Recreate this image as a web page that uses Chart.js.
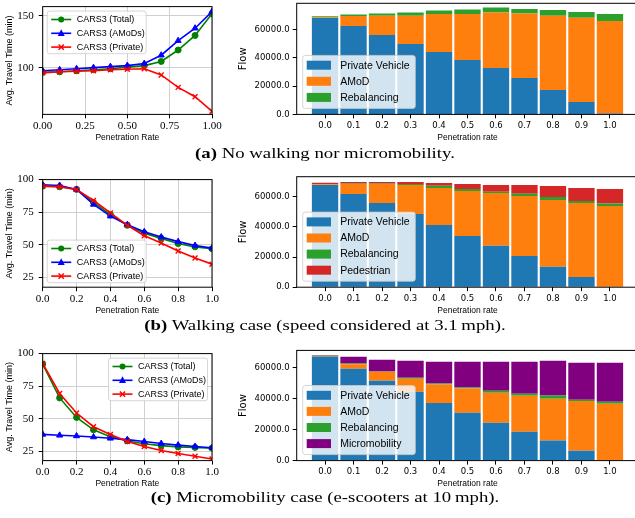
<!DOCTYPE html>
<html>
<head>
<meta charset="utf-8">
<script src="https://cdn.jsdelivr.net/npm/chart.js@4.4.1/dist/chart.umd.min.js"></script>
<style>
    html, body { margin: 0; padding: 0; background: #fff; }
    body { position: relative; width: 635px; height: 518px; overflow: hidden; }
    canvas { position: absolute; }
    .caption {
        position: absolute; left: 0; width: 650px; text-align: center;
        font-family: "Liberation Serif", serif; font-size: 15.5px; line-height: 15.5px;
        color: #000; white-space: nowrap; transform: scaleX(1.21);
    }
</style>
</head>
<body>
<canvas id="lineA"></canvas>
<canvas id="barA"></canvas>
<canvas id="lineB"></canvas>
<canvas id="barB"></canvas>
<canvas id="lineC"></canvas>
<canvas id="barC"></canvas>
<div class="caption" style="top:144.5px"><b>(a)</b> No walking nor micromobility.</div>
<div class="caption" style="top:317px"><b>(b)</b> Walking case (speed considered at 3.1&#8201;mph).</div>
<div class="caption" style="top:489px"><b>(c)</b> Micromobility case (e-scooters at 10&#8201;mph).</div>
<script>
// Penetration rates and bar categories
const rates = [0.0, 0.1, 0.2, 0.3, 0.4, 0.5, 0.6, 0.7, 0.8, 0.9, 1.0];
const categories = ['0.0', '0.1', '0.2', '0.3', '0.4', '0.5', '0.6', '0.7', '0.8', '0.9', '1.0'];

// Tick labels
const lineXTicksA = ['0.00', '0.25', '0.50', '0.75', '1.00'];
const lineXTicksBC = ['0.0', '0.2', '0.4', '0.6', '0.8', '1.0'];
const lineYTicksA = ['100', '150'];
const lineYTicksBC = ['25', '50', '75', '100'];
const flowTicks = ['0.0', '20000.0', '40000.0', '60000.0'];

// (a) No walking nor micromobility - avg travel time (min)
const totalA = [95.5, 96, 97, 98, 99, 100.5, 102, 106, 117, 131, 152];
const amodA = [97, 98, 99, 100, 101, 102, 104, 112, 126, 138, 154];
const privateA = [95, 96, 96.5, 97, 98, 98.5, 99, 93, 81, 72, 58];

// (a) flows
const pvFlowA = [68000, 62400, 56000, 49600, 44000, 38400, 32700, 25600, 17200, 8700, 700];
const amodFlowA = [500, 7000, 13600, 20000, 26800, 32400, 39100, 45500, 52400, 59500, 65200];
const rebalFlowA = [800, 1000, 1500, 2200, 2400, 3100, 3500, 3300, 4000, 4000, 4900];

// (b) Walking case - avg travel time (min)
const totalB = [95, 94.5, 92.5, 82.5, 73, 65, 59, 55, 51, 48.5, 47];
const amodB = [96, 95.5, 92.5, 81, 72, 65.5, 60, 56, 52.5, 49.5, 47.5];
const privateB = [95, 94.5, 92.5, 84, 74.5, 65, 57, 51.5, 45.3, 40, 35.2];

// (b) flows
const pvFlowB = [67700, 61800, 55800, 48500, 41300, 34000, 27400, 20700, 13500, 6800, 0];
const amodFlowB = [500, 6600, 12600, 19200, 24400, 29800, 35000, 39700, 44300, 49000, 53800];
const rebalFlowB = [200, 400, 400, 700, 1600, 1300, 900, 1600, 2000, 1300, 1600];
const pedFlowB = [900, 900, 900, 1300, 1700, 3300, 4400, 5700, 7300, 8600, 9700];

// (c) Micromobility case - avg travel time (min)
const totalC = [92, 66, 51, 41.5, 36.3, 33, 30.8, 29.4, 28.4, 28, 27.5];
const amodC = [38, 37.3, 36.8, 36, 35, 34, 32.5, 31, 29.8, 28.7, 27.8];
const privateC = [92.5, 69.4, 54.4, 43.9, 38, 32.6, 28.7, 25.7, 23.3, 21.3, 19.1];

// (c) flows
const pvFlowC = [67300, 59400, 51600, 44500, 37300, 30900, 24400, 18600, 13000, 6300, 0];
const amodFlowC = [500, 2800, 5800, 8400, 11900, 15700, 19400, 23300, 26900, 32300, 36700];
const rebalFlowC = [100, 600, 200, 600, 700, 700, 1300, 1300, 2200, 700, 1300];
const microFlowC = [300, 4300, 7600, 11000, 14000, 16600, 18800, 20700, 22400, 23900, 25200];

// Plot rows (top / bottom of each axes box, px)
const rowA = { top: 3.3, bottom: 114.4 };
const rowB = { top: 176.7, bottom: 287.2 };
const rowC = { top: 350.4, bottom: 460.6 };

const SANS = '"Liberation Sans", Arial, sans-serif';
const SERIF = '"Liberation Serif", serif';
const DEJAVU = '"DejaVu Sans", sans-serif';

// Size and place a canvas so that its plot area lands on the given box
function place(id, left, width, plotLeft, plotRight, plotTop, plotBottom) {
    const canvas = document.getElementById(id);
    const top = Math.floor(plotTop - 8);
    const height = Math.ceil(plotBottom - top + 30);
    canvas.width = width;
    canvas.height = height;
    canvas.style.left = left + 'px';
    canvas.style.top = top + 'px';
    canvas.style.width = width + 'px';
    canvas.style.height = height + 'px';
    return {
        canvas,
        padding: { top: plotTop - top, right: left + width - plotRight, bottom: height - (plotBottom - top) - 30, left: 0 },
        yWidth: plotLeft - left
    };
}

function drawMarker(ctx, style, x, y, r, color) {
    ctx.fillStyle = color;
    ctx.strokeStyle = color;
    ctx.beginPath();
    if (style === 'circle') {
        ctx.arc(x, y, r, 0, Math.PI * 2);
        ctx.fill();
    } else if (style === 'triangle') {
        ctx.moveTo(x, y - r * 1.15);
        ctx.lineTo(x + r, y + r * 0.75);
        ctx.lineTo(x - r, y + r * 0.75);
        ctx.closePath();
        ctx.fill();
    } else {
        ctx.lineWidth = 1.5;
        const d = r * 0.75;
        ctx.moveTo(x - d, y - d); ctx.lineTo(x + d, y + d);
        ctx.moveTo(x - d, y + d); ctx.lineTo(x + d, y - d);
        ctx.stroke();
    }
}

function roundedBox(ctx, x, y, w, h, r) {
    ctx.beginPath();
    ctx.moveTo(x + r, y);
    ctx.lineTo(x + w - r, y);
    ctx.arcTo(x + w, y, x + w, y + r, r);
    ctx.lineTo(x + w, y + h - r);
    ctx.arcTo(x + w, y + h, x + w - r, y + h, r);
    ctx.lineTo(x + r, y + h);
    ctx.arcTo(x, y + h, x, y + h - r, r);
    ctx.lineTo(x, y + r);
    ctx.arcTo(x, y, x + r, y, r);
    ctx.closePath();
}

// Axes frame + matplotlib style legend box
const frameLegend = {
    id: 'frameLegend',
    afterDraw(chart, args, opts) {
        const { ctx, chartArea: a } = chart;
        ctx.save();
        ctx.strokeStyle = '#000';
        ctx.lineWidth = 1;
        ctx.strokeRect(a.left, a.top, a.right - a.left, a.bottom - a.top);

        const sets = chart.data.datasets;
        const w = opts.width;
        const h = opts.padTop + (sets.length - 1) * opts.rowGap + opts.padBottom;
        const x = opts.corner.includes('left') ? a.left + opts.inset : a.right - opts.inset - w;
        const y = opts.corner.includes('upper') ? a.top + opts.inset : a.bottom - opts.inset - h;

        roundedBox(ctx, x, y, w, h, 2.5);
        ctx.fillStyle = 'rgba(255,255,255,0.8)';
        ctx.fill();
        ctx.strokeStyle = '#cccccc';
        ctx.lineWidth = 0.8;
        ctx.stroke();

        ctx.font = opts.font;
        ctx.textBaseline = 'middle';
        ctx.textAlign = 'left';
        sets.forEach((ds, i) => {
            const cy = y + opts.padTop + i * opts.rowGap;
            if (opts.kind === 'patch') {
                ctx.fillStyle = ds.backgroundColor;
                ctx.fillRect(x + 4, cy - 4.5, 24.3, 9);
            } else {
                ctx.strokeStyle = ds.borderColor;
                ctx.lineWidth = 1.6;
                ctx.beginPath();
                ctx.moveTo(x + 4, cy);
                ctx.lineTo(x + 24, cy);
                ctx.stroke();
                drawMarker(ctx, ds.pointStyle, x + 14, cy, ds.pointRadius, ds.borderColor);
            }
            ctx.fillStyle = '#000';
            ctx.fillText(ds.label, x + opts.textX, cy + 0.5);
        });
        ctx.restore();
    }
};

function lineChart(id, row, series, xTicks, yTicks, yMin, yMax, corner) {
    const box = place(id, 0, 230, 42.7, 212, row.top, row.bottom);
    return new Chart(box.canvas, {
        type: 'line',
        data: {
            datasets: series.map(s => ({
                label: s.label,
                data: rates.map((x, i) => ({ x: x, y: s.values[i] })),
                borderColor: s.color,
                backgroundColor: s.color,
                borderWidth: 1.6,
                pointStyle: s.marker,
                pointRadius: s.radius,
                pointBorderWidth: s.marker === 'crossRot' ? 1.4 : 1,
                tension: 0,
                order: s.order
            }))
        },
        options: {
            responsive: false,
            animation: false,
            events: [],
            layout: { padding: box.padding },
            plugins: {
                legend: { display: false },
                tooltip: { enabled: false },
                frameLegend: {
                    corner: corner, inset: 4.5, width: 99, rowGap: 13.8,
                    padTop: 8.4, padBottom: 6.6, font: '9px ' + SANS, kind: 'line', textX: 29.5
                }
            },
            scales: {
                x: {
                    type: 'linear', min: 0, max: 1,
                    afterBuildTicks: s => { s.ticks = xTicks.map(t => ({ value: parseFloat(t) })); },
                    afterFit: s => { s.height = 30; },
                    ticks: {
                        callback: (v, i) => xTicks[i], autoSkip: false, maxRotation: 0,
                        font: { family: SERIF, size: 11 }, color: '#000', padding: 1
                    },
                    grid: { color: '#d0d0d0', lineWidth: 1, tickColor: '#000', tickLength: 4 },
                    border: { display: false },
                    title: {
                        display: true, text: 'Penetration Rate', color: '#000',
                        font: { family: SANS, size: 8.5 }, padding: { top: 0, bottom: 1.4 }
                    }
                },
                y: {
                    min: yMin, max: yMax,
                    afterBuildTicks: s => { s.ticks = yTicks.map(t => ({ value: parseFloat(t) })); },
                    afterFit: s => { s.width = box.yWidth; },
                    ticks: {
                        callback: (v, i) => yTicks[i], autoSkip: false,
                        font: { family: SERIF, size: 11 }, color: '#000', padding: 5
                    },
                    grid: { color: '#d0d0d0', lineWidth: 1, tickColor: '#000', tickLength: 4 },
                    border: { display: false },
                    title: {
                        display: true, text: 'Avg. Travel Time (min)', color: '#000',
                        font: { family: SANS, size: 9 }, padding: { top: 4.6, bottom: 0 }
                    }
                }
            }
        },
        plugins: [frameLegend]
    });
}

function barChart(id, row, series, yMax) {
    const box = place(id, 230, 410, 296.7, 638.3, row.top, row.bottom);
    return new Chart(box.canvas, {
        type: 'bar',
        data: {
            datasets: series.map(s => ({
                label: s.label,
                data: s.values.map((v, i) => ({ x: i, y: v })),
                backgroundColor: s.color,
                borderWidth: 0,
                barPercentage: 0.925,
                categoryPercentage: 1
            }))
        },
        options: {
            responsive: false,
            animation: false,
            events: [],
            layout: { padding: box.padding },
            plugins: {
                legend: { display: false },
                tooltip: { enabled: false },
                frameLegend: {
                    corner: 'lower left', inset: 6, width: 112.6, rowGap: 16.1,
                    padTop: 9.8, padBottom: 11, font: '10.5px ' + SANS, kind: 'patch', textX: 37.5
                }
            },
            scales: {
                x: {
                    type: 'linear', stacked: true, offset: false, min: -0.995, max: 10.995,
                    afterBuildTicks: s => { s.ticks = categories.map((c, i) => ({ value: i })); },
                    afterFit: s => { s.height = 30; },
                    ticks: {
                        callback: (v, i) => categories[i], autoSkip: false, maxRotation: 0,
                        font: { family: DEJAVU, size: 8.5 }, color: '#000', padding: 2
                    },
                    grid: { drawOnChartArea: false, offset: false, tickColor: '#000', tickLength: 4 },
                    border: { display: false },
                    title: {
                        display: true, text: 'Penetration rate', color: '#000',
                        font: { family: SANS, size: 8.5 }, padding: { top: 0, bottom: 1.4 }
                    }
                },
                y: {
                    stacked: true, min: 0, max: yMax,
                    afterBuildTicks: s => { s.ticks = flowTicks.map(t => ({ value: parseFloat(t) })); },
                    afterFit: s => { s.width = box.yWidth; },
                    ticks: {
                        callback: (v, i) => flowTicks[i], autoSkip: false,
                        font: { family: DEJAVU, size: 8.5 }, color: '#000', padding: 3
                    },
                    grid: { drawOnChartArea: false, tickColor: '#000', tickLength: 4 },
                    border: { display: false },
                    title: {
                        display: true, text: 'Flow', color: '#000',
                        font: { family: DEJAVU, size: 10 }, padding: { top: 7.3, bottom: 0 }
                    }
                }
            }
        },
        plugins: [frameLegend]
    });
}

// Series definitions
const GREEN = '#008000', BLUE = '#0000ff', RED = '#ff0000';
function timeSeries(total, amod, priv) {
    return [
        { label: 'CARS3 (Total)', values: total, color: GREEN, marker: 'circle', radius: 3, order: 3 },
        { label: 'CARS3 (AMoDs)', values: amod, color: BLUE, marker: 'triangle', radius: 3.5, order: 2 },
        { label: 'CARS3 (Private)', values: priv, color: RED, marker: 'crossRot', radius: 3.5, order: 1 }
    ];
}

lineChart('lineA', rowA, timeSeries(totalA, amodA, privateA), lineXTicksA, lineYTicksA, 55, 158.8, 'upper left');
lineChart('lineB', rowB, timeSeries(totalB, amodB, privateB), lineXTicksBC, lineYTicksBC, 17.6, 100, 'lower left');
lineChart('lineC', rowC, timeSeries(totalC, amodC, privateC), lineXTicksBC, lineYTicksBC, 17.9, 100, 'upper right');

barChart('barA', rowA, [
    { label: 'Private Vehicle', values: pvFlowA, color: '#1f77b4' },
    { label: 'AMoD', values: amodFlowA, color: '#ff7f0e' },
    { label: 'Rebalancing', values: rebalFlowA, color: '#2ca02c' }
], 78350);

barChart('barB', rowB, [
    { label: 'Private Vehicle', values: pvFlowB, color: '#1f77b4' },
    { label: 'AMoD', values: amodFlowB, color: '#ff7f0e' },
    { label: 'Rebalancing', values: rebalFlowB, color: '#2ca02c' },
    { label: 'Pedestrian', values: pedFlowB, color: '#d62728' }
], 73235);

barChart('barC', rowC, [
    { label: 'Private Vehicle', values: pvFlowC, color: '#1f77b4' },
    { label: 'AMoD', values: amodFlowC, color: '#ff7f0e' },
    { label: 'Rebalancing', values: rebalFlowC, color: '#2ca02c' },
    { label: 'Micromobility', values: microFlowC, color: '#800080' }
], 71223);
</script>
</body>
</html>
